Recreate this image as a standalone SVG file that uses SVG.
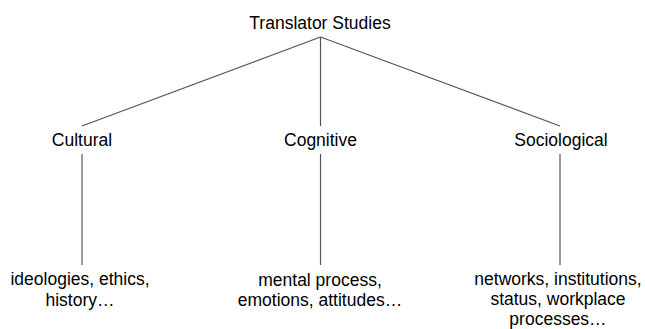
<svg xmlns="http://www.w3.org/2000/svg" width="645" height="329" viewBox="0 0 645 329">
  <style>
    text { font-family: "Liberation Sans", Arial, sans-serif; font-size: 17.5px; fill: #000; text-anchor: middle; }
    .edge { stroke: #555; stroke-width: 1.2; fill: none; }
  </style>
  <rect width="645" height="329" fill="#fff"/>

  <!-- tree branches: root fans out to three fields, each field drops to its topics -->
  <g id="connectors">
    <line class="edge" x1="320.5" y1="37" x2="82" y2="126"/>
    <line class="edge" x1="320.5" y1="37" x2="320.5" y2="126"/>
    <line class="edge" x1="320.5" y1="37" x2="560" y2="126"/>
    <line class="edge" x1="82" y1="154" x2="82" y2="265"/>
    <line class="edge" x1="320.5" y1="154" x2="320.5" y2="265"/>
    <line class="edge" x1="560" y1="154" x2="560" y2="265"/>
  </g>

  <g id="root">
    <text x="320" y="29">Translator Studies</text>
  </g>

  <g id="cultural">
    <text x="82" y="146">Cultural</text>
  </g>
  <g id="cognitive">
    <text x="320.5" y="146">Cognitive</text>
  </g>
  <g id="sociological">
    <text x="561" y="146">Sociological</text>
  </g>

  <g id="cultural-topics">
    <text x="80" y="285">ideologies, ethics,</text>
    <text x="80" y="306">history…</text>
  </g>
  <g id="cognitive-topics">
    <text x="320" y="286">mental process,</text>
    <text x="320" y="306">emotions, attitudes…</text>
  </g>
  <g id="sociological-topics">
    <text x="558" y="285">networks, institutions,</text>
    <text x="558" y="305">status, workplace</text>
    <text x="558" y="325">processes…</text>
  </g>
</svg>
